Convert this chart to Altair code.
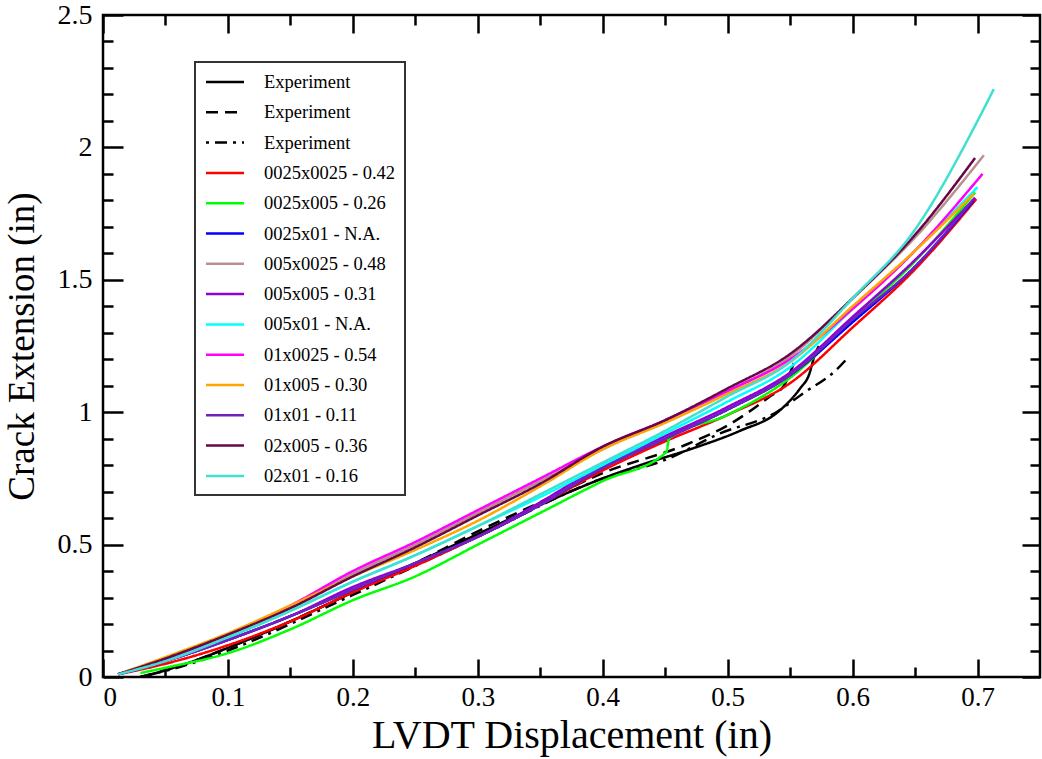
import altair as alt
import pandas as pd

# ---------------- data ----------------
SERIES = [
    "Experiment 1", "Experiment 2", "Experiment 3",
    "0025x0025 - 0.42", "0025x005 - 0.26", "0025x01 - N.A.",
    "005x0025 - 0.48", "005x005 - 0.31", "005x01 - N.A.",
    "01x0025 - 0.54", "01x005 - 0.30", "01x01 - 0.11",
    "02x005 - 0.36", "02x01 - 0.16",
]
COLORS = [
    "#000000", "#000000", "#000000",
    "#ff0000", "#00ff00", "#0000ff",
    "#bc8f8f", "#9400d3", "#00ffff",
    "#ff00ff", "#ffa500", "#7221bc",
    "#670748", "#40e0d0",
]
DASHES = [[1, 0], [12, 7], [3, 6, 12, 6]] + [[1, 0]] * 11

# experiments
exp1_x = [0.03, 0.06, 0.10, 0.15, 0.20, 0.25, 0.30, 0.35, 0.40, 0.43, 0.47, 0.51, 0.54, 0.558, 0.565, 0.570, 0.573]
exp1_y = [0.00, 0.04, 0.11, 0.21, 0.32, 0.43, 0.54, 0.65, 0.75, 0.80, 0.86, 0.93, 1.00, 1.09, 1.14, 1.22, 1.25]
exp2_x = [0.03, 0.06, 0.10, 0.15, 0.20, 0.25, 0.30, 0.35, 0.40, 0.468, 0.50, 0.534, 0.545, 0.550, 0.555]
exp2_y = [0.00, 0.04, 0.11, 0.21, 0.32, 0.43, 0.55, 0.66, 0.77, 0.88, 0.95, 1.06, 1.10, 1.15, 1.21]
exp3_x = [0.03, 0.07, 0.10, 0.20, 0.30, 0.40, 0.45, 0.494, 0.539, 0.560, 0.587, 0.597]
exp3_y = [0.00, 0.05, 0.10, 0.31, 0.53, 0.75, 0.82, 0.92, 1.00, 1.07, 1.16, 1.21]

# simulations (common grid + own end point)
GRID = [0.012, 0.05, 0.10, 0.15, 0.20, 0.25, 0.30, 0.35, 0.40, 0.45, 0.50, 0.55, 0.60, 0.65]
red_y     = [0.01, 0.05, 0.12, 0.21, 0.32, 0.42, 0.53, 0.65, 0.78, 0.89, 0.99, 1.11, 1.32, 1.54]
red_end   = (0.699, 1.805)
blue_y    = [0.01, 0.06, 0.14, 0.23, 0.33, 0.43, 0.53, 0.65, 0.79, 0.90, 1.01, 1.14, 1.34, 1.55]
blue_end  = (0.697, 1.80)
brown_y   = [0.01, 0.07, 0.16, 0.26, 0.39, 0.50, 0.62, 0.74, 0.86, 0.97, 1.08, 1.21, 1.43, 1.66]
brown_end = (0.705, 1.97)
violet_y  = [0.01, 0.06, 0.14, 0.23, 0.34, 0.43, 0.53, 0.66, 0.80, 0.91, 1.02, 1.15, 1.36, 1.575]
violet_end = (0.698, 1.81)
cyan_y    = [0.01, 0.065, 0.15, 0.25, 0.36, 0.46, 0.57, 0.68, 0.80, 0.92, 1.04, 1.17, 1.39, 1.61]
cyan_end  = (0.700, 1.85)
magenta_y = [0.01, 0.07, 0.16, 0.27, 0.40, 0.51, 0.63, 0.75, 0.87, 0.97, 1.08, 1.20, 1.39, 1.61]
magenta_end = (0.704, 1.90)
orange_y  = [0.01, 0.075, 0.165, 0.27, 0.38, 0.48, 0.59, 0.72, 0.86, 0.96, 1.07, 1.19, 1.40, 1.61]
orange_end = (0.697, 1.825)
indigo_y  = [0.01, 0.06, 0.14, 0.23, 0.33, 0.43, 0.53, 0.65, 0.79, 0.90, 1.01, 1.14, 1.35, 1.55]
indigo_end = (0.696, 1.80)
maroon_y  = [0.01, 0.07, 0.16, 0.26, 0.38, 0.49, 0.61, 0.73, 0.87, 0.97, 1.09, 1.22, 1.43, 1.67]
maroon_end = (0.698, 1.96)
turq_y    = [0.01, 0.06, 0.15, 0.25, 0.36, 0.46, 0.57, 0.69, 0.81, 0.93, 1.06, 1.19, 1.43, 1.69]
turq_extra = [(0.70, 2.10), (0.713, 2.22)]

green_x = [0.03, 0.05, 0.10, 0.15, 0.20, 0.25, 0.30, 0.35, 0.40, 0.451, 0.453, 0.50, 0.55, 0.60, 0.65, 0.698]
green_y = [0.015, 0.035, 0.09, 0.18, 0.29, 0.38, 0.50, 0.62, 0.74, 0.85, 0.90, 0.99, 1.13, 1.35, 1.57, 1.83]

XMAJ = [0, 0.1, 0.2, 0.3, 0.4, 0.5, 0.6, 0.7]
XMIN = [0.05, 0.15, 0.25, 0.35, 0.45, 0.55, 0.65]
YMAJ = [0, 0.5, 1, 1.5, 2, 2.5]
YMIN = [0.1, 0.2, 0.3, 0.4, 0.6, 0.7, 0.8, 0.9, 1.1, 1.2, 1.3, 1.4,
        1.6, 1.7, 1.8, 1.9, 2.1, 2.2, 2.3, 2.4]

# ---------------- table ----------------
rows = []
def add(name, xs, ys):
    for i, (a, b) in enumerate(zip(xs, ys)):
        rows.append({"series": name, "x": a, "y": b, "o": i})

add(SERIES[0], exp1_x, exp1_y)
add(SERIES[1], exp2_x, exp2_y)
add(SERIES[2], exp3_x, exp3_y)
add(SERIES[3], GRID + [red_end[0]], red_y + [red_end[1]])
add(SERIES[4], green_x, green_y)
add(SERIES[5], GRID + [blue_end[0]], blue_y + [blue_end[1]])
add(SERIES[6], GRID + [brown_end[0]], brown_y + [brown_end[1]])
add(SERIES[7], GRID + [violet_end[0]], violet_y + [violet_end[1]])
add(SERIES[8], GRID + [cyan_end[0]], cyan_y + [cyan_end[1]])
add(SERIES[9], GRID + [magenta_end[0]], magenta_y + [magenta_end[1]])
add(SERIES[10], GRID + [orange_end[0]], orange_y + [orange_end[1]])
add(SERIES[11], GRID + [indigo_end[0]], indigo_y + [indigo_end[1]])
add(SERIES[12], GRID + [maroon_end[0]], maroon_y + [maroon_end[1]])
add(SERIES[13], GRID + [p[0] for p in turq_extra], turq_y + [p[1] for p in turq_extra])
df = pd.DataFrame(rows)

FONT = "Liberation Serif"
xscale = alt.Scale(domain=[0, 0.75], nice=False, zero=False)
yscale = alt.Scale(domain=[0, 2.5], nice=False, zero=False)

legend = alt.Legend(
    orient="none", legendX=92, legendY=47,
    labelFont=FONT, labelFontSize=18.5, labelColor="black", labelLimit=300,
    labelExpr="indexof(datum.label, 'Experiment') == 0 ? 'Experiment' : datum.label",
    symbolType="M-2,0L2,0", symbolSize=361, symbolStrokeWidth=2.5,
    symbolOffset=10, labelOffset=28, rowPadding=9.3, padding=9,
    strokeColor="#333333", fillColor="white",
)

lines = alt.Chart(df).mark_line(strokeWidth=2.5, clip=True, interpolate="monotone").encode(
    x=alt.X("x:Q", scale=xscale, axis=alt.Axis(
        orient="bottom", values=XMAJ, format="~g", tickSize=18, offset=-18,
        labelFontSize=27, labelPadding=7, title="LVDT Displacement (in)",
        titleFontSize=40, titlePadding=5)),
    y=alt.Y("y:Q", scale=yscale, axis=alt.Axis(
        orient="left", values=YMAJ, format="~g", tickSize=20, offset=-20,
        labelFontSize=28, labelPadding=11, title="Crack Extension (in)",
        titleFontSize=37, titlePadding=16)),
    color=alt.Color("series:N", scale=alt.Scale(domain=SERIES, range=COLORS),
                    legend=legend, title=None),
    strokeDash=alt.StrokeDash("series:N", scale=alt.Scale(domain=SERIES, range=DASHES),
                              legend=legend, title=None),
    order="o:Q",
)

def tick_layer(xo, xs, xv, yo, ys, yv):
    return alt.Chart(df).mark_point(opacity=0).encode(
        x=alt.X("x:Q", scale=xscale, axis=alt.Axis(
            orient=xo, values=xv, tickSize=xs, offset=-xs, labels=False, title=None)),
        y=alt.Y("y:Q", scale=yscale, axis=alt.Axis(
            orient=yo, values=yv, tickSize=ys, offset=-ys, labels=False, title=None)),
    )

minor_bl = tick_layer("bottom", 10, XMIN, "left", 10, YMIN)
major_tr = tick_layer("top", 18, XMAJ, "right", 18, YMAJ)
minor_tr = tick_layer("top", 10, XMIN, "right", 10, YMIN)

chart = alt.layer(minor_bl, major_tr, minor_tr, lines).resolve_axis(
    x="independent", y="independent"
).properties(
    width=937, height=662,
    autosize=alt.AutoSizeParams(type="none"),
    padding={"left": 103, "top": 15, "right": 2, "bottom": 82},
    background="white",
).configure_view(
    stroke="black", strokeWidth=2.5
).configure_axis(
    domain=False, grid=False, tickColor="black", tickWidth=2.5,
    labelFont=FONT, labelFontSize=28, labelColor="black",
    titleFont=FONT, titleFontSize=38, titleFontWeight="normal", titleColor="black",
).configure_legend(
    strokeWidth=2
)

chart.save("out.html", embed_options={"renderer": "svg", "actions": False})
